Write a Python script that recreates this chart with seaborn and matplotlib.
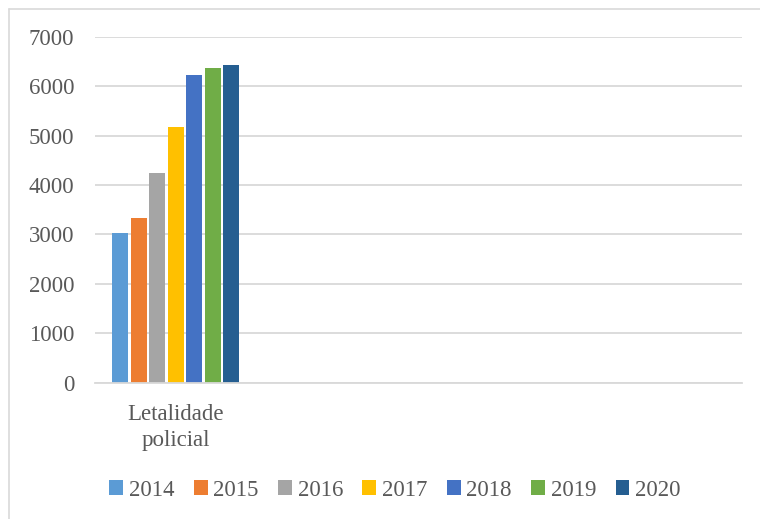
import matplotlib
matplotlib.use("Agg")
import matplotlib.pyplot as plt
import seaborn as sns
import pandas as pd
from matplotlib.patches import Patch
from matplotlib.lines import Line2D

categories = ["Letalidade\npolicial"]
years = ["2014", "2015", "2016", "2017", "2018", "2019", "2020"]
values = [3020, 3330, 4240, 5170, 6220, 6360, 6420]
colors = ["#5b9bd5", "#ed7d31", "#a5a5a5", "#ffc000", "#4472c4", "#70ad47", "#255e91"]
yticks = [0, 1000, 2000, 3000, 4000, 5000, 6000, 7000]

sns.set_theme(style="white")
plt.rcParams['font.family'] = ['Liberation Serif', 'DejaVu Serif']

df = pd.DataFrame({"cat": categories * len(years), "year": years, "value": values})

fig = plt.figure(figsize=(7.6, 5.19), dpi=100)
ax = fig.add_axes([95/760, 1-382.7/519, (742-95)/760, (382.7-36.7)/519])

order = categories + [" ", "  ", "   "]
sns.barplot(data=df, x="cat", y="value", hue="year", order=order, hue_order=years,
            palette=colors, width=0.8, gap=0.14, ax=ax, legend=False, saturation=1,
            linewidth=0)

ax.set_ylim(0, 7000)
ax.set_xlim(-0.5, 3.5)
ax.set_yticks(yticks)
ax.set_yticklabels([str(v) for v in yticks])
ax.set_xlabel("")
ax.set_ylabel("")
ax.yaxis.grid(True, color="#d9d9d9", linewidth=1.3)
ax.set_axisbelow(True)
for s in ["left", "right", "top"]:
    ax.spines[s].set_visible(False)
ax.spines["bottom"].set_color("#d9d9d9")
ax.spines["bottom"].set_linewidth(1.3)
ax.tick_params(axis="y", length=0, pad=15, labelsize=16.5, labelcolor="#595959")
ax.tick_params(axis="x", length=0, pad=15, labelsize=16.5, labelcolor="#595959")
for t in ax.get_xticklabels():
    t.set_linespacing(1.35)

handles = [Patch(facecolor=c, edgecolor="none", label=y) for c, y in zip(colors, years)]
leg = fig.legend(handles=handles, loc="center", bbox_to_anchor=(395/760, 1-490/519), ncol=7,
                 frameon=False, fontsize=16.5, handlelength=0.6, handleheight=0.6,
                 handletextpad=0.25, columnspacing=0.85, labelcolor="#595959")

fig.add_artist(Line2D([9/760, 9/760], [0, 1-9/519], color="#d9d9d9", linewidth=1.2, transform=fig.transFigure))
fig.add_artist(Line2D([9/760, 1], [1-9/519, 1-9/519], color="#d9d9d9", linewidth=1.2, transform=fig.transFigure))

fig.savefig("out.png", dpi=100)
